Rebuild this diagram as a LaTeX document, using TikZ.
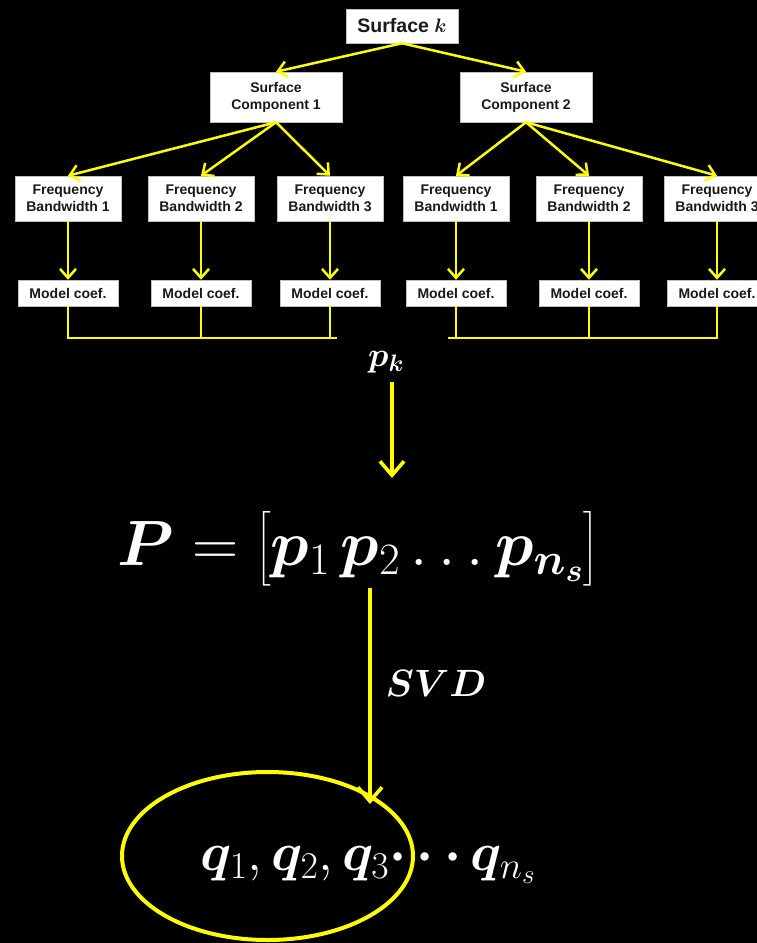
\documentclass[tikz,border=0pt]{standalone}
\usepackage{fix-cm}
\usepackage{amsmath}
\usepackage{bm}
\usepackage{fontspec}
\newfontfamily\arial{Liberation Sans}
\usetikzlibrary{arrows.meta,shapes.geometric}
\definecolor{yel}{HTML}{FFFF00}
\begin{document}
\begin{tikzpicture}[x=1pt,y=-1pt,
  box/.style={fill=white, draw=gray!50, line width=0.5pt, inner sep=0pt, align=center, text=black!90,
    font=\arial\bfseries\fontsize{14}{17}\selectfont},
  fbox/.style={box, minimum width=106pt, minimum height=45pt},
  mbox/.style={box, minimum width=100pt, minimum height=26pt},
  cbox/.style={box, minimum width=132pt, minimum height=50pt},
  yl/.style={draw=yel, line width=2.5pt},
  ya/.style={yl, -{Straight Barb[length=9pt,width=16pt]}},
  yab/.style={draw=yel, line width=3.6pt, -{Straight Barb[length=14pt,width=24pt]}},
  wtext/.style={text=white, inner sep=0pt},
]
\fill[black] (0,0) rectangle (757,943);
\useasboundingbox (0,0) rectangle (757,943);

% boxes
\node[box, minimum width=112pt, minimum height=34pt, font=\arial\bfseries\fontsize{19.5}{22}\selectfont] (sk) at (402,26) {Surface $\bm{k}$};
\node[cbox] (c1) at (276,97) {Surface\\Component 1};
\node[cbox] (c2) at (526,97) {Surface\\Component 2};

\node[fbox] (f1) at (68,198.5) {Frequency\\Bandwidth 1};
\node[fbox] (f2) at (201,198.5) {Frequency\\Bandwidth 2};
\node[fbox] (f3) at (330,198.5) {Frequency\\Bandwidth 3};
\node[fbox] (f4) at (456,198.5) {Frequency\\Bandwidth 1};
\node[fbox] (f5) at (589,198.5) {Frequency\\Bandwidth 2};
\node[fbox] (f6) at (717,198.5) {Frequency\\Bandwidth 3};

\node[mbox] (m1) at (68,293) {Model coef.};
\node[mbox] (m2) at (201,293) {Model coef.};
\node[mbox] (m3) at (330,293) {Model coef.};
\node[mbox] (m4) at (456,293) {Model coef.};
\node[mbox] (m5) at (589,293) {Model coef.};
\node[mbox] (m6) at (717,293) {Model coef.};

% tree arrows
\draw[ya] (sk.south) -- (c1.north);
\draw[ya] (sk.south) -- (c2.north);
\foreach \f in {f1,f2,f3} \draw[ya] (c1.south) -- (\f.north);
\foreach \f in {f4,f5,f6} \draw[ya] (c2.south) -- (\f.north);
\foreach \i in {1,...,6} \draw[ya] (f\i.south) -- (m\i.north);

% buses
\coordinate (busL) at (337,338);
\coordinate (busR) at (448,338);
\draw[yl] (m1.south) |- (busL);
\draw[yl] (m2.south) -- (m2.south |- busL);
\draw[yl] (m3.south) -- (m3.south |- busL);
\draw[yl] (m6.south) |- (busR);
\draw[yl] (m4.south) -- (m4.south |- busR);
\draw[yl] (m5.south) -- (m5.south |- busR);

% p_k
\node[wtext, outer sep=9pt, font=\fontsize{34}{38}\selectfont] (pk) at (386,362) {$\bm{p}_{\bm{k}}$};
\coordinate (t1) at (392,478);
\draw[yab] (pk.south -| t1) -- (t1);

% equation
\node[wtext, font=\fontsize{64}{70}\selectfont] (eq) at (358,549)
  {$\bm{P} = \bigl[\bm{p}_1\,\bm{p}_2 \ldots \bm{p}_{\bm{n_s}}\bigr]$};

% SVD
\coordinate (t2) at (370,804);
\draw[yab] (eq.south -| t2) -- (t2);
\node[wtext, font=\fontsize{38}{42}\selectfont] (svd) at (436,683) {$\bm{SVD}$};

% q's
\node[wtext, anchor=base, font=\fontsize{54}{60}\selectfont] (q) at (368,870)
  {$\bm{q}_1, \bm{q}_2, \bm{q}_3 \bm{\cdots}\, \bm{q}_{n_s}$};
\node[draw=yel, line width=4pt, ellipse, minimum width=291pt, minimum height=168pt, inner sep=0pt] (ell) at (267.5,856) {};
\end{tikzpicture}
\end{document}
